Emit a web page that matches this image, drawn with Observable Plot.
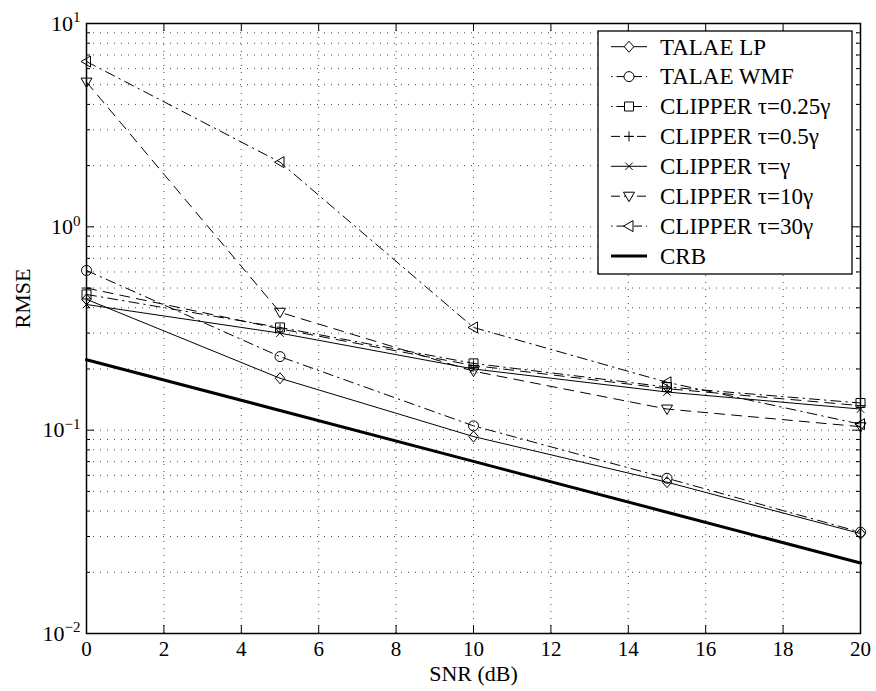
<!DOCTYPE html>
<html><head><meta charset="utf-8">
<script src="https://cdn.jsdelivr.net/npm/d3@7"></script>
<script src="https://cdn.jsdelivr.net/npm/@observablehq/plot@0.6"></script>
<style>body{margin:0;background:#fff}#chart{position:relative;width:876px;height:691px}</style>
</head><body><div id="chart"></div>
<script>
// ---- data ----
const snr = [0, 5, 10, 15, 20];
const talaeLP   = [0.44, 0.18, 0.093, 0.0555, 0.031];
const talaeWMF  = [0.61, 0.23, 0.105, 0.058, 0.0315];
const clip025   = [0.465, 0.32, 0.213, 0.163, 0.136];
const clip05    = [0.50, 0.315, 0.208, 0.16, 0.132];
const clip1     = [0.415, 0.30, 0.20, 0.154, 0.127];
const clip10    = [5.15, 0.38, 0.195, 0.127, 0.104];
const clip30    = [6.5, 2.08, 0.32, 0.172, 0.107];
const crb       = [0.222, 0.125, 0.0702, 0.0395, 0.0222];
const seriesNames = ["TALAE LP", "TALAE WMF", "CLIPPER τ=0.25γ", "CLIPPER τ=0.5γ", "CLIPPER τ=γ", "CLIPPER τ=10γ", "CLIPPER τ=30γ", "CRB"];
const xTicks = [0, 2, 4, 6, 8, 10, 12, 14, 16, 18, 20];
const yMajor = [0.01, 0.1, 1, 10];
const yMinor = [2,3,4,5,6,7,8,9].flatMap(m => [m * 0.01, m * 0.1, m * 1]);
const xLabel = "SNR (dB)";
const yLabel = "RMSE";

// ---- symbols (MATLAB-like) ----
const sym = f => ({draw(ctx, size) { const r = Math.sqrt(size / Math.PI); f(ctx, r); }});
const symDiamond = sym((c, r) => { c.moveTo(0, -1.1*r); c.lineTo(0.95*r, 0); c.lineTo(0, 1.1*r); c.lineTo(-0.95*r, 0); c.closePath(); });
const symCircle = sym((c, r) => { c.moveTo(r, 0); c.arc(0, 0, r, 0, 2*Math.PI); });
const symSquare = sym((c, r) => { const s = 0.9*r; c.moveTo(-s,-s); c.lineTo(s,-s); c.lineTo(s,s); c.lineTo(-s,s); c.closePath(); });
const symPlus = sym((c, r) => { c.moveTo(-r,0); c.lineTo(r,0); c.moveTo(0,-r); c.lineTo(0,r); });
const symTimes = sym((c, r) => { const s = 0.75*r; c.moveTo(-s,-s); c.lineTo(s,s); c.moveTo(-s,s); c.lineTo(s,-s); });
const symDown = sym((c, r) => { c.moveTo(-1.1*r,-0.8*r); c.lineTo(1.1*r,-0.8*r); c.lineTo(0,1.1*r); c.closePath(); });
const symLeft = sym((c, r) => { c.moveTo(-1.1*r,0); c.lineTo(0.8*r,-1.1*r); c.lineTo(0.8*r,1.1*r); c.closePath(); });

const DASH = "10,7", DASHDOT = "10,5,1.5,5";
const styles = [
  {dash: null, symbol: symDiamond, w: 1},
  {dash: DASHDOT, symbol: symCircle, w: 1},
  {dash: DASHDOT, symbol: symSquare, w: 1},
  {dash: DASH, symbol: symPlus, w: 1},
  {dash: null, symbol: symTimes, w: 1},
  {dash: DASH, symbol: symDown, w: 1},
  {dash: DASHDOT, symbol: symLeft, w: 1},
  {dash: null, symbol: null, w: 3}
];
const values = [talaeLP, talaeWMF, clip025, clip05, clip1, clip10, clip30, crb];
const series = seriesNames.map((name, i) => ({
  name, ...styles[i],
  rows: snr.map((s, j) => ({snr: s, rmse: values[i][j]}))
}));

const W = 876, H = 691, mL = 86, mR = 16, mT = 23, mB = 58;
const pw = W - mL - mR, ph = H - mT - mB;
const gridStyle = {stroke: "#333", strokeWidth: 0.9, strokeDasharray: "1,6"};

const marks = [
  Plot.ruleX(xTicks.slice(1, -1), gridStyle),
  Plot.ruleY(yMajor.slice(1, -1).concat(yMinor), gridStyle),
  Plot.ruleX(xTicks, {insetBottom: ph - 8, stroke: "black"}),
  Plot.ruleX(xTicks, {insetTop: ph - 8, stroke: "black"}),
  Plot.ruleY(yMajor, {insetRight: pw - 8, stroke: "black"}),
  Plot.ruleY(yMajor, {insetLeft: pw - 8, stroke: "black"}),
  Plot.ruleY(yMinor, {insetRight: pw - 4, stroke: "black"}),
  Plot.ruleY(yMinor, {insetLeft: pw - 4, stroke: "black"}),
  Plot.axisX({ticks: xTicks, tickSize: 0, tickPadding: 8, tickFormat: d => String(d), label: null, fontSize: 21}),
  Plot.axisY({ticks: yMajor, tickSize: 0, tickPadding: 6, tickFormat: d => "10^" + Math.round(Math.log10(d)), label: null, fontSize: 22}),
];
for (const s of series) {
  marks.push(Plot.line(s.rows, {x: "snr", y: "rmse", stroke: "black", strokeWidth: s.w, strokeDasharray: s.dash}));
  if (s.symbol) marks.push(Plot.dot(s.rows, {x: "snr", y: "rmse", symbol: s.symbol, r: 5, stroke: "black", fill: "none", strokeWidth: 1}));
}
marks.push(Plot.frame({stroke: "black", strokeWidth: 1.5}));
marks.push(Plot.text([xLabel], {text: d => d, frameAnchor: "bottom", dy: 47, fontSize: 22}));
marks.push(Plot.text([yLabel], {text: d => d, frameAnchor: "left", dx: -64, rotate: -90, fontSize: 22}));

const svgNode = Plot.plot({
  width: W, height: H, marginLeft: mL, marginRight: mR, marginTop: mT, marginBottom: mB,
  x: {domain: [0, 20]},
  y: {type: "log", domain: [0.01, 10]},
  style: {fontFamily: "'Liberation Serif', 'Times New Roman', serif", fontSize: "22px", background: "white", color: "black"},
  marks
});
document.getElementById("chart").appendChild(svgNode);

// superscript exponents on y tick labels
const svg = d3.select(svgNode);
svg.selectAll('g[aria-label="y-axis tick label"] text').each(function() {
  const t = d3.select(this);
  const raw = this.textContent;
  const exp = raw.split("^")[1].replace("-", "\u2212");
  t.text(null);
  t.append("tspan").text("10");
  t.append("tspan").attr("font-size", "15px").attr("dy", "-0.55em").text(exp);
});

// legend (inside svg)
const lg = svg.append("g").attr("font-family", "'Liberation Serif', 'Times New Roman', serif").attr("font-size", 23).attr("text-anchor", "start");
const lx = 598, ly = 31, lw = 254, lh = 243, row0 = 46.7, rowStep = 29.9;
lg.append("rect").attr("x", lx).attr("y", ly).attr("width", lw).attr("height", lh).attr("fill", "white").attr("stroke", "black").attr("stroke-width", 1.3);
series.forEach((s, i) => {
  const cy = row0 + i * rowStep;
  lg.append("line").attr("x1", 611).attr("x2", 647).attr("y1", cy).attr("y2", cy)
    .attr("stroke", "black").attr("stroke-width", s.w).attr("stroke-dasharray", s.dash === DASHDOT ? "1.5,4,8,4" : s.dash === DASH ? "9,4" : null);
  if (s.symbol) lg.append("path").attr("transform", `translate(629,${cy})`)
    .attr("d", d3.symbol(s.symbol, 25 * Math.PI)()).attr("fill", "white").attr("stroke", "black");
  lg.append("text").attr("x", 660).attr("y", cy).attr("dy", "0.34em").attr("text-anchor", "start").text(s.name);
});
</script></body></html>
